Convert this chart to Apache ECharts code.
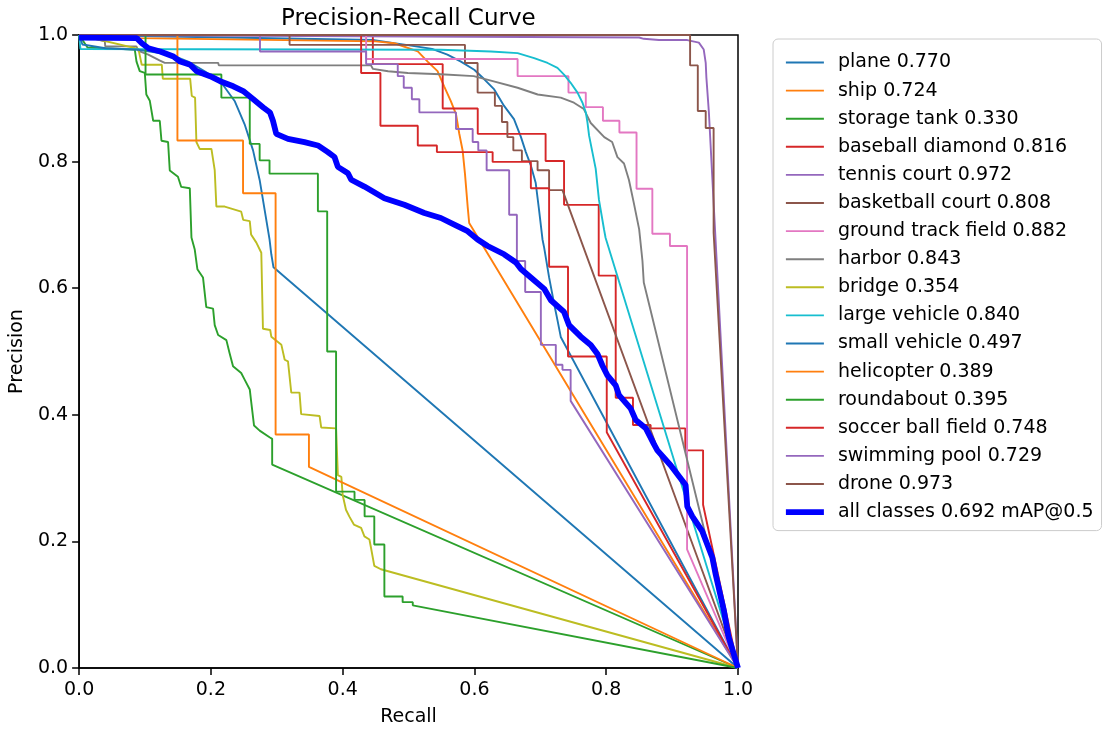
<!DOCTYPE html>
<html>
<head>
<meta charset="utf-8">
<script src="https://cdn.jsdelivr.net/npm/echarts@6/dist/echarts.min.js"></script>
<style>
  html, body { margin: 0; padding: 0; background: #fff; }
  #chart { width: 1104px; height: 732px; }
</style>
</head>
<body>
<div id="chart"></div>
<script>
// class names and AP@0.5 per class (legend order)
const classNames = ['plane', 'ship', 'storage tank', 'baseball diamond', 'tennis court',
  'basketball court', 'ground track field', 'harbor', 'bridge', 'large vehicle',
  'small vehicle', 'helicopter', 'roundabout', 'soccer ball field', 'swimming pool', 'drone']
const apValues = [0.770, 0.724, 0.330, 0.816, 0.972, 0.808, 0.882, 0.843, 0.354, 0.840,
  0.497, 0.389, 0.395, 0.748, 0.729, 0.973]
const mapAll = 0.692
const tickLabels = ['0.0', '0.2', '0.4', '0.6', '0.8', '1.0']

// [recall, precision] points
const plane = [[0,1],[0.4477,0.992],[0.478,0.987],[0.4988,0.984],[0.5356,0.978],[0.559,0.969],[0.5795,0.958],[0.5997,0.945],[0.615,0.930],[0.630,0.914],[0.645,0.888],[0.660,0.867],[0.6705,0.839],[0.678,0.815],[0.6856,0.794],[0.693,0.766],[0.698,0.724],[0.7033,0.677],[0.7058,0.664],[0.7133,0.617],[0.721,0.575],[0.726,0.5495],[0.731,0.523],[1,0]]
const ship = [[0,1],[0.09,0.995],[0.45,0.99],[0.4785,0.987],[0.514,0.974],[0.529,0.958],[0.544,0.943],[0.554,0.919],[0.564,0.896],[0.572,0.875],[0.577,0.844],[0.582,0.818],[0.5856,0.781],[0.5897,0.729],[0.592,0.703],[1,0]]
const storageTank = [[0,1],[0.013,0.98],[0.0845,0.977],[0.0871,0.958],[0.092,0.943],[0.0997,0.94],[0.102,0.906],[0.1073,0.896],[0.1124,0.8645],[0.1224,0.8645],[0.125,0.833],[0.135,0.831],[0.1376,0.786],[0.15,0.776],[0.155,0.76],[0.168,0.758],[0.1705,0.68],[0.1755,0.661],[0.1795,0.63],[0.188,0.617],[0.193,0.57],[0.2033,0.5677],[0.2058,0.5417],[0.211,0.526],[0.2235,0.518],[0.2285,0.497],[0.2336,0.4766],[0.246,0.466],[0.251,0.456],[0.259,0.44],[0.261,0.422],[0.2655,0.383],[0.274,0.375],[0.289,0.3645],[0.293,0.362],[0.293,0.3214],[1,0]]
const baseballDiamond = [[0,1],[0.4458,1],[0.4458,0.954],[0.5518,0.954],[0.5518,0.884],[0.605,0.884],[0.605,0.8438],[0.708,0.8438],[0.708,0.801],[0.736,0.801],[0.736,0.7317],[0.7886,0.7317],[0.7886,0.6198],[0.8144,0.6198],[0.8144,0.427],[0.8406,0.427],[0.8406,0.384],[0.8674,0.384],[0.8674,0.3786],[0.92,0.3786],[0.92,0.3438],[0.947,0.3438],[0.947,0.2578],[1,0]]
const tennisCourt = [[0,1],[0.85,0.996],[0.857,0.994],[0.88,0.992],[0.923,0.992],[0.9406,0.988],[0.948,0.977],[0.951,0.956],[0.952,0.933],[0.954,0.93],[0.9558,0.878],[1,0]]
const basketballCourt = [[0,1],[0.3194,1],[0.3194,0.9844],[0.5856,0.9844],[0.5856,0.9558],[0.6048,0.9558],[0.6048,0.909],[0.631,0.909],[0.631,0.888],[0.6417,0.888],[0.6417,0.8625],[0.650,0.8625],[0.650,0.8386],[0.659,0.8386],[0.659,0.8177],[0.672,0.8177],[0.672,0.8008],[0.6958,0.8008],[0.6958,0.7864],[0.7133,0.7864],[0.7133,0.755],[0.7336,0.755],[1,0]]
const groundTrackField = [[0,1],[0.4356,1],[0.4356,0.962],[0.6655,0.962],[0.6655,0.935],[0.7427,0.935],[0.7427,0.909],[0.769,0.909],[0.769,0.886],[0.795,0.886],[0.795,0.8645],[0.82,0.8645],[0.82,0.846],[0.846,0.846],[0.846,0.757],[0.87,0.757],[0.87,0.686],[0.8967,0.686],[0.8967,0.6667],[0.9227,0.6667],[0.9227,0.1875],[1,0]]
const harbor = [[0,1],[0.039,0.99],[0.0397,0.982],[0.087,0.982],[0.09,0.975],[0.105,0.969],[0.122,0.96],[0.13,0.956],[0.211,0.956],[0.212,0.952],[0.443,0.952],[0.446,0.9464],[0.469,0.9427],[0.499,0.94],[0.549,0.938],[0.599,0.935],[0.625,0.928],[0.6655,0.9167],[0.696,0.906],[0.731,0.901],[0.751,0.893],[0.766,0.883],[0.7765,0.861],[0.797,0.8386],[0.809,0.831],[0.817,0.807],[0.827,0.797],[0.8345,0.771],[0.842,0.734],[0.85,0.693],[0.855,0.643],[0.857,0.609],[1,0]]
const bridge = [[0,1],[0.09,0.978],[0.0927,0.9766],[0.095,0.953],[0.1255,0.953],[0.127,0.931],[0.1685,0.931],[0.171,0.9036],[0.176,0.901],[0.178,0.831],[0.183,0.82],[0.2008,0.82],[0.2058,0.7864],[0.2083,0.729],[0.221,0.729],[0.246,0.721],[0.249,0.708],[0.259,0.706],[0.261,0.685],[0.269,0.672],[0.2765,0.656],[0.279,0.536],[0.29,0.534],[0.2917,0.5234],[0.307,0.5105],[0.312,0.487],[0.317,0.4844],[0.322,0.435],[0.3345,0.435],[0.337,0.401],[0.365,0.398],[0.3674,0.38],[0.39,0.3786],[0.3927,0.3047],[0.398,0.302],[0.4,0.2734],[0.405,0.25],[0.41,0.2395],[0.417,0.2266],[0.428,0.2214],[0.433,0.208],[0.4406,0.203],[0.443,0.19],[0.4458,0.1875],[0.448,0.1614],[0.458,0.156],[1,0]]
const largeVehicle = [[0,1],[0.002,0.978],[0.549,0.9766],[0.625,0.974],[0.6655,0.9714],[0.6906,0.9636],[0.711,0.9558],[0.726,0.948],[0.736,0.9375],[0.746,0.9245],[0.7564,0.909],[0.764,0.893],[0.769,0.8777],[0.7715,0.862],[0.774,0.841],[0.779,0.815],[0.784,0.789],[0.789,0.7395],[0.7967,0.6927],[0.799,0.6797],[1,0]]
const smallVehicle = [[0,1],[0.005,0.985],[0.04,0.979],[0.0897,0.9766],[0.14,0.9687],[0.1655,0.958],[0.1906,0.9427],[0.216,0.9245],[0.236,0.8958],[0.2512,0.859],[0.264,0.8177],[0.274,0.771],[0.2815,0.724],[0.289,0.677],[0.2917,0.6536],[0.295,0.633],[1,0]]
const helicopter = [[0,1],[0.1492,1],[0.1492,0.8333],[0.2488,0.8333],[0.2488,0.75],[0.2982,0.75],[0.2982,0.3688],[0.3488,0.3688],[0.3488,0.3177],[1,0]]
const roundabout = [[0,1],[0.1008,1],[0.1008,0.9375],[0.2159,0.9375],[0.2159,0.901],[0.259,0.901],[0.259,0.828],[0.274,0.828],[0.274,0.802],[0.289,0.802],[0.289,0.781],[0.3624,0.781],[0.3624,0.7214],[0.3765,0.7214],[0.3765,0.5],[0.39,0.5],[0.39,0.2786],[0.418,0.2786],[0.418,0.2656],[0.4333,0.2656],[0.4333,0.2395],[0.448,0.2395],[0.448,0.195],[0.4633,0.195],[0.4633,0.113],[0.491,0.113],[0.491,0.104],[0.5064,0.104],[0.5064,0.099],[1,0]]
const soccerBallField = [[0,1],[0.428,1],[0.428,0.94],[0.4573,0.94],[0.4573,0.8567],[0.514,0.8567],[0.514,0.8255],[0.543,0.8255],[0.543,0.815],[0.6276,0.815],[0.6276,0.7995],[0.6856,0.7995],[0.6856,0.7578],[0.7133,0.7578],[0.7133,0.634],[0.742,0.634],[0.742,0.492],[0.8008,0.492],[0.8008,0.3723],[1,0]]
const swimmingPool = [[0,1],[0.2745,1],[0.2745,0.974],[0.4356,0.974],[0.4356,0.954],[0.4836,0.954],[0.4836,0.935],[0.4927,0.935],[0.4927,0.9167],[0.505,0.9167],[0.505,0.8984],[0.5164,0.8984],[0.5164,0.8777],[0.572,0.8777],[0.572,0.8516],[0.5973,0.8516],[0.5973,0.831],[0.6058,0.831],[0.6058,0.8177],[0.6185,0.8177],[0.6185,0.7864],[0.6527,0.7864],[0.6527,0.716],[0.6644,0.716],[0.6644,0.643],[0.677,0.643],[0.677,0.594],[0.7008,0.594],[0.7008,0.5105],[0.7235,0.5105],[0.7235,0.479],[0.7336,0.479],[0.7336,0.471],[0.746,0.471],[0.746,0.422],[1,0]]
const drone = [[0,1],[0.9273,1],[0.9273,0.952],[0.939,0.952],[0.939,0.88],[0.951,0.88],[0.951,0.853],[0.963,0.853],[0.963,0.6875],[1,0]]
const allClasses = [[0,0.996],[0.0876,0.995],[0.0952,0.987],[0.1053,0.979],[0.123,0.974],[0.1432,0.966],[0.1533,0.958],[0.1685,0.953],[0.1785,0.9427],[0.1988,0.9349],[0.214,0.927],[0.234,0.919],[0.249,0.9114],[0.2644,0.8984],[0.2795,0.8855],[0.2897,0.8776],[0.2942,0.8646],[0.2992,0.8438],[0.317,0.836],[0.342,0.8307],[0.3624,0.8255],[0.3776,0.815],[0.3876,0.8073],[0.3927,0.7917],[0.408,0.7817],[0.413,0.7714],[0.433,0.7605],[0.4633,0.7422],[0.4936,0.7318],[0.524,0.7188],[0.549,0.7109],[0.5694,0.7005],[0.5897,0.6901],[0.6048,0.677],[0.62,0.6667],[0.645,0.6536],[0.663,0.6406],[0.6705,0.6302],[0.6856,0.617],[0.7058,0.599],[0.716,0.581],[0.736,0.5625],[0.7436,0.5417],[0.7614,0.5234],[0.7765,0.5104],[0.7867,0.4961],[0.7942,0.4779],[0.8018,0.4623],[0.8144,0.4466],[0.8194,0.431],[0.837,0.4102],[0.8447,0.3919],[0.86,0.3789],[0.8724,0.3536],[0.8776,0.3438],[0.8977,0.3203],[0.9205,0.289],[0.923,0.2552],[0.9306,0.2396],[0.9457,0.2161],[0.961,0.1745],[0.966,0.1484],[0.9785,0.0911],[0.9856,0.0495],[1,0]]

const curves = [plane, ship, storageTank, baseballDiamond, tennisCourt, basketballCourt,
  groundTrackField, harbor, bridge, largeVehicle, smallVehicle, helicopter, roundabout,
  soccerBallField, swimmingPool, drone]

// matplotlib tab10
const tab10 = ['#1f77b4', '#ff7f0e', '#2ca02c', '#d62728', '#9467bd',
  '#8c564b', '#e377c2', '#7f7f7f', '#bcbd22', '#17becf']

const FONT = 'DejaVu Sans'
const chart = echarts.init(document.getElementById('chart'))

const series = curves.map((data, i) => ({
  name: classNames[i] + ' ' + apValues[i].toFixed(3),
  type: 'line',
  data: data,
  symbol: 'none',
  lineStyle: { color: tab10[i % 10], width: 1.9 },
  itemStyle: { color: tab10[i % 10] }
}))
series.push({
  name: 'all classes ' + mapAll.toFixed(3) + ' mAP@0.5',
  type: 'line',
  data: allClasses,
  symbol: 'none',
  lineStyle: { color: '#0000ff', width: 5.8 },
  itemStyle: { color: '#0000ff' }
})

const axisCommon = {
  type: 'value',
  min: 0,
  max: 1,
  interval: 0.2,
  nameLocation: 'middle',
  nameTextStyle: { fontFamily: FONT, fontSize: 19, color: '#000' },
  axisLine: { show: true, lineStyle: { color: '#000', width: 1.5 } },
  axisTick: { show: true, length: 7, lineStyle: { color: '#000', width: 1.5 } },
  axisLabel: {
    fontFamily: FONT, fontSize: 19, color: '#000',
    formatter: v => tickLabels[Math.round(v * 5)]
  },
  splitLine: { show: false }
}

// legend entries: plain line handles, the mean curve drawn thick
const legendData = series.map(s => ({
  name: s.name,
  lineStyle: { width: s.lineStyle.width, color: s.lineStyle.color }
}))

chart.setOption({
  animation: false,
  backgroundColor: '#fff',
  title: {
    text: 'Precision-Recall Curve',
    left: 276,
    top: 3,
    textStyle: { fontFamily: FONT, fontSize: 23, fontWeight: 'normal', color: '#000' }
  },
  grid: {
    left: 78, top: 35, width: 660, height: 640,
    show: true, borderColor: '#000', borderWidth: 1.5
  },
  xAxis: Object.assign({}, axisCommon, {
    name: 'Recall', nameGap: 40,
    axisLabel: Object.assign({}, axisCommon.axisLabel, { margin: 13 })
  }),
  yAxis: Object.assign({}, axisCommon, {
    name: 'Precision', nameGap: 51,
    axisLabel: Object.assign({}, axisCommon.axisLabel, { margin: 11 })
  }),
  legend: {
    orient: 'vertical',
    left: 773,
    top: 39,
    padding: [14, 8, 9, 10],
    itemWidth: 38,
    itemHeight: 14,
    itemGap: 9.1,
    itemStyle: { opacity: 0 },
    borderColor: '#ccc',
    borderWidth: 1,
    borderRadius: 5,
    backgroundColor: 'rgba(255,255,255,0.8)',
    textStyle: { fontFamily: FONT, fontSize: 19, color: '#000', padding: [0, 0, 0, 9] },
    data: legendData
  },
  series: series
})
</script>
</body>
</html>
